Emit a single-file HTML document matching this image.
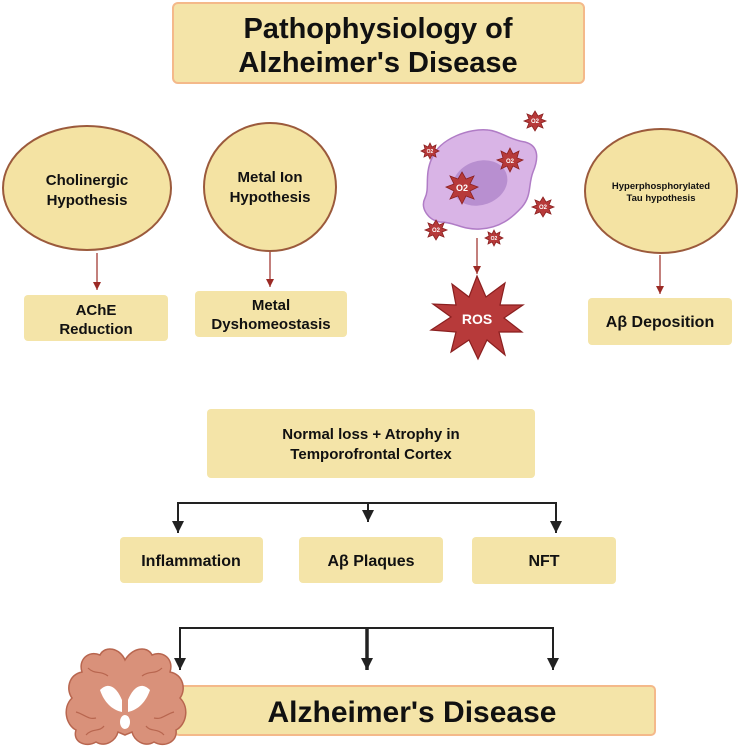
<!DOCTYPE html>
<html><head><meta charset="utf-8"><style>
body{margin:0;background:#fff;}
svg{display:block;font-family:"Liberation Sans",sans-serif;font-weight:bold;}
</style></head><body>
<svg width="749" height="749" viewBox="0 0 749 749" xmlns="http://www.w3.org/2000/svg">
<defs>
<marker id="rh" markerWidth="8" markerHeight="8" refX="8" refY="4" orient="auto" markerUnits="userSpaceOnUse" viewBox="0 0 8 8"><path d="M0,0 L8,4 L0,8 z" fill="#9b2a25"/></marker>
<marker id="bh" markerWidth="12" markerHeight="12" refX="12" refY="6" orient="auto" markerUnits="userSpaceOnUse" viewBox="0 0 12 12"><path d="M0,0 L12,6 L0,12 z" fill="#222"/></marker>
</defs>
<!-- title -->
<rect x="173" y="3" width="411" height="80" rx="5" fill="#f4e4a8" stroke="#f4b98a" stroke-width="2"/>
<text x="378" y="38" font-size="29" text-anchor="middle" fill="#111">Pathophysiology of</text>
<text x="378" y="72" font-size="29" text-anchor="middle" fill="#111">Alzheimer's Disease</text>

<!-- ellipses -->
<ellipse cx="87" cy="188" rx="84" ry="62" fill="#f4e3a3" stroke="#9b5a3c" stroke-width="2"/>
<text x="87" y="185" font-size="15" text-anchor="middle" fill="#111">Cholinergic</text>
<text x="87" y="205" font-size="15" text-anchor="middle" fill="#111">Hypothesis</text>
<ellipse cx="270" cy="187" rx="66" ry="64" fill="#f4e3a3" stroke="#9b5a3c" stroke-width="2"/>
<text x="270" y="182" font-size="15" text-anchor="middle" fill="#111">Metal Ion</text>
<text x="270" y="202" font-size="15" text-anchor="middle" fill="#111">Hypothesis</text>
<ellipse cx="661" cy="191" rx="76" ry="62" fill="#f4e3a3" stroke="#9b5a3c" stroke-width="2"/>
<text x="661" y="189" font-size="9.5" text-anchor="middle" fill="#111">Hyperphosphorylated</text>
<text x="661" y="201" font-size="9.5" text-anchor="middle" fill="#111">Tau hypothesis</text>

<!-- red arrows -->
<g stroke="#9b2a25" stroke-width="1.2">
<line x1="97" y1="253" x2="97" y2="290" marker-end="url(#rh)"/>
<line x1="270" y1="252" x2="270" y2="287" marker-end="url(#rh)"/>
<line x1="660" y1="255" x2="660" y2="294" marker-end="url(#rh)"/>
<line x1="477" y1="238" x2="477" y2="274" marker-end="url(#rh)"/>
</g>

<!-- first row boxes -->
<rect x="24" y="295" width="144" height="46" rx="4" fill="#f4e4a8"/>
<text x="96" y="315" font-size="15" text-anchor="middle" fill="#111">AChE</text>
<text x="96" y="334" font-size="15" text-anchor="middle" fill="#111">Reduction</text>
<rect x="195" y="291" width="152" height="46" rx="4" fill="#f4e4a8"/>
<text x="271" y="310" font-size="15" text-anchor="middle" fill="#111">Metal</text>
<text x="271" y="329" font-size="15" text-anchor="middle" fill="#111">Dyshomeostasis</text>
<rect x="588" y="298" width="144" height="47" rx="4" fill="#f4e4a8"/>
<text x="660" y="327" font-size="16" text-anchor="middle" fill="#111">Aβ Deposition</text>

<!-- cell -->
<path d="M432,158 C440,138 470,128 488,130 C500,131 510,140 525,142 C540,146 538,160 533,172 C528,185 532,195 522,207 C512,218 500,228 480,229 C462,230 455,222 440,222 C428,220 420,208 425,198 C430,188 424,175 432,158 z" fill="#d9b4e6" stroke="#b07cc6" stroke-width="1.5"/>
<ellipse cx="480" cy="183" rx="28" ry="22" fill="#b88fd0" transform="rotate(-20 480 183)"/>
<!-- O2 stars -->
<g fill="#b73a3a" stroke="#8a1f1f" stroke-width="0.8">
<polygon points="462,172 466,179 474,176 470,184 478,187 470,191 474,199 466,196 462,204 458,196 450,199 454,191 446,187 454,184 450,176 458,179"/>
<polygon points="510,148 513,154 519,151 517,158 523,160 517,163 519,169 513,166 510,172 507,166 501,169 503,163 497,160 503,158 501,151 507,154"/>
<polygon points="430,143 432,147 436,145 435,149 439,151 435,153 436,157 432,155 430,159 428,155 424,157 425,153 421,151 425,149 424,145 428,147"/>
<polygon points="543,197 546,202 551,200 549,205 554,207 549,209 551,214 546,212 543,217 540,212 535,214 537,209 532,207 537,205 535,200 540,202"/>
<polygon points="436,220 439,225 444,223 442,228 447,230 442,232 444,237 439,235 436,240 433,235 428,237 430,232 425,230 430,228 428,223 433,225"/>
<polygon points="494,230 496,234 500,232 499,236 503,238 499,240 500,244 496,242 494,246 492,242 488,244 489,240 485,238 489,236 488,232 492,234"/>
<polygon points="535,111 538,116 543,114 541,119 546,121 541,123 543,128 538,126 535,131 532,126 527,128 529,123 524,121 529,119 527,114 532,116"/>
</g>
<g fill="#fff" font-size="6" text-anchor="middle">
<text x="462" y="191" font-size="9">O2</text>
<text x="510" y="163">O2</text>
<text x="430" y="153" font-size="5">O2</text>
<text x="543" y="209">O2</text>
<text x="436" y="232">O2</text>
<text x="494" y="240" font-size="5">O2</text>
<text x="535" y="123">O2</text>
</g>
<!-- ROS star -->
<polygon points="477,276 486,297 505,283 500,305 523,305 504,318 522,332 499,332 505,355 487,340 478,359 469,340 451,352 456,332 431,330 451,317 433,304 456,305 452,284 469,297" fill="#b73a3a" stroke="#8a1f1f" stroke-width="1.2"/>
<text x="477" y="324" font-size="14" text-anchor="middle" fill="#fff">ROS</text>

<!-- Normal loss -->
<rect x="207" y="409" width="328" height="69" rx="4" fill="#f4e4a8"/>
<text x="371" y="439" font-size="15" text-anchor="middle" fill="#111">Normal loss + Atrophy in</text>
<text x="371" y="459" font-size="15" text-anchor="middle" fill="#111">Temporofrontal Cortex</text>

<g stroke="#222" stroke-width="2" fill="none">
<line x1="177" y1="503" x2="557" y2="503"/>
<line x1="178" y1="503" x2="178" y2="533" marker-end="url(#bh)"/>
<line x1="556" y1="503" x2="556" y2="533" marker-end="url(#bh)"/>
<line x1="368" y1="503" x2="368" y2="522" marker-end="url(#bh)"/>
</g>

<rect x="120" y="537" width="143" height="46" rx="4" fill="#f4e4a8"/>
<text x="191" y="566" font-size="16" text-anchor="middle" fill="#111">Inflammation</text>
<rect x="299" y="537" width="144" height="46" rx="4" fill="#f4e4a8"/>
<text x="371" y="566" font-size="16" text-anchor="middle" fill="#111">Aβ Plaques</text>
<rect x="472" y="537" width="144" height="47" rx="4" fill="#f4e4a8"/>
<text x="544" y="566" font-size="16" text-anchor="middle" fill="#111">NFT</text>

<g stroke="#222" stroke-width="2" fill="none">
<line x1="179" y1="628" x2="554" y2="628"/>
<line x1="180" y1="628" x2="180" y2="670" marker-end="url(#bh)"/>
<line x1="553" y1="628" x2="553" y2="670" marker-end="url(#bh)"/>
<line x1="367" y1="628" x2="367" y2="670" stroke-width="3.5" marker-end="url(#bh)"/>
</g>

<!-- final box -->
<rect x="175" y="686" width="480" height="49" rx="4" fill="#f4e4a8" stroke="#f4b98a" stroke-width="2"/>
<text x="412" y="722" font-size="30" text-anchor="middle" fill="#111">Alzheimer's Disease</text>

<!-- brain -->
<g>
<path d="M125,660 C120,648 105,645 100,655 C88,650 78,660 82,672 C68,675 66,690 72,698 C62,708 66,725 76,730 C72,742 86,748 96,742 C106,748 116,740 118,732 L125,735 L132,732 C134,740 144,748 154,742 C164,748 178,742 176,730 C186,725 190,708 180,698 C186,690 184,675 170,672 C174,660 164,650 152,655 C147,645 132,648 125,660 z" fill="#d9917a" stroke="#b8664f" stroke-width="1.5"/>
<path d="M100,690 C110,680 118,690 122,700 L122,712 C112,710 104,702 100,690 z M150,690 C140,680 132,690 128,700 L128,712 C138,710 146,702 150,690 z" fill="#fff"/>
<ellipse cx="125" cy="722" rx="5" ry="7" fill="#fff"/>
<g stroke="#b8664f" stroke-width="1.2" fill="none">
<path d="M88,668 C95,675 100,670 108,676"/><path d="M162,668 C155,675 150,670 142,676"/>
<path d="M76,712 C84,714 88,720 96,718"/><path d="M174,712 C166,714 162,720 154,718"/>
<path d="M86,735 C92,728 100,732 104,726"/><path d="M164,735 C158,728 150,732 146,726"/>
</g>
</g>
</svg>
</body></html>
